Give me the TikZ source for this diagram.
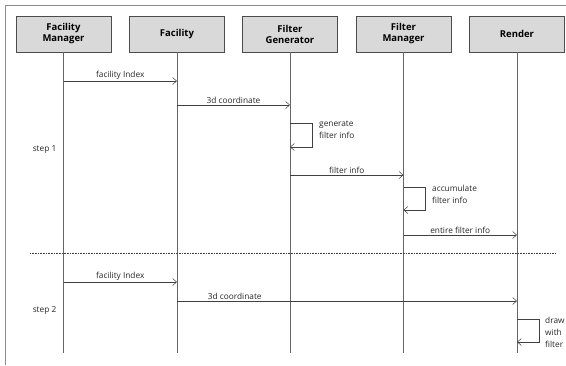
\documentclass[tikz,border=0pt]{standalone}
\usepackage{fontspec}
\setmainfont{Open Sans}
\usetikzlibrary{arrows.meta,positioning}

\begin{document}
\begin{tikzpicture}[x=1pt,y=-1pt,
  acteur/.style={draw=black!70,fill=black!15,minimum width=95pt,minimum height=36pt,
    inner sep=0pt,align=center,font=\bfseries\fontsize{9.5}{11}\selectfont},
  vie/.style={draw=black!60,line width=0.6pt},
  msg/.style={draw=black!75,line width=0.6pt,-{Straight Barb[length=4pt,width=7pt,line width=0.5pt]}},
  lbl/.style={font=\fontsize{8.3}{9.5}\selectfont,text=black!85,inner sep=1.5pt},
  boucle/.style={anchor=north west,align=left,font=\fontsize{8.3}{12}\selectfont,text=black!85,inner sep=0pt}]

\useasboundingbox (0,0) rectangle (566,365);
\draw[black!45,line width=0.8pt] (5,365)--(5,5)--(566,5);

% les acteurs
\node[acteur] (fm) at (63.5,34) {Facility\\Manager};
\node[acteur] (fc) at (177,34) {Facility};
\node[acteur] (gen) at (290,34) {Filter\\Generator};
\node[acteur] (mgr) at (403.5,34) {Filter\\Manager};
\node[acteur] (rd) at (517,34) {Render};

% lignes de vie
\coordinate (fin) at (0,353);
\foreach \a in {fm,fc,gen,mgr,rd}
  \draw[vie] (\a.south)--(\a |- fin);

% etape 1
\coordinate (r1) at (0,81);
\coordinate (r2) at (0,105);
\coordinate (r3) at (0,123);
\coordinate (r4) at (0,175);
\coordinate (r5) at (0,187);
\coordinate (r6) at (0,235);
\draw[msg] (fm |- r1)--node[lbl,above]{facility Index}(fc |- r1);
\draw[msg] (fc |- r2)--node[lbl,above]{3d coordinate}(gen |- r2);
\draw[msg] (gen |- r3)--++(22,0)--++(0,24)--++(-22,0);
\node[boucle] (t1) at (319,121) {generate\\filter info};
\draw[msg] (gen |- r4)--node[lbl,above]{filter info}(mgr |- r4);
\draw[msg] (mgr |- r5)--++(22,0)--++(0,23)--++(-22,0);
\node[boucle] (t2) at (432,185) {accumulate\\filter info};
\draw[msg] (mgr |- r6)--node[lbl,above]{entire filter info}(rd |- r6);
\node[lbl,anchor=east] (s1) at (58,150) {step 1};

\draw[black!75,line width=0.7pt,dash pattern=on 0.8pt off 0.8pt] (30,253)--(556,253);

% etape 2
\coordinate (r7) at (0,282);
\coordinate (r8) at (0,301);
\coordinate (r9) at (0,319);
\draw[msg] (fm |- r7)--node[lbl,above]{facility Index}(fc |- r7);
\draw[msg] (fc |- r8)--node[lbl,above,pos=0.17]{3d coordinate}(rd |- r8);
\draw[msg] (rd |- r9)--++(22,0)--++(0,23)--++(-22,0);
\node[boucle] (t3) at (545,317) {draw\\with\\filter};
\node[lbl,anchor=east] (s2) at (58,310) {step 2};

\end{tikzpicture}
\end{document}
